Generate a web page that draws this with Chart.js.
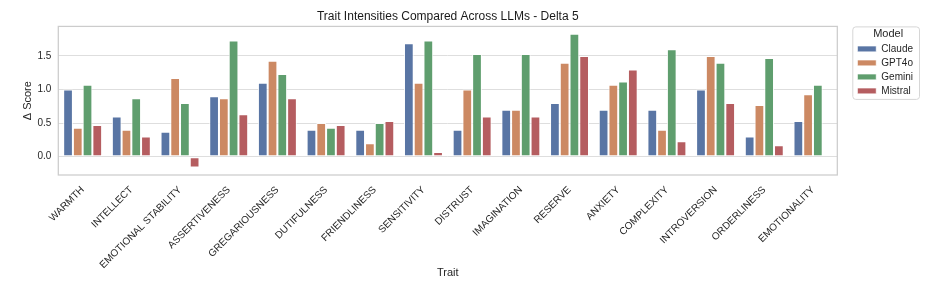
<!DOCTYPE html>
<html>
<head>
<meta charset="utf-8">
<script src="https://cdn.jsdelivr.net/npm/chart.js@4"></script>
<style>
  html, body { margin: 0; padding: 0; background: #ffffff; }
  #wrap { width: 930px; height: 291px; }
</style>
</head>
<body>
<div id="wrap"><canvas id="traitChart" width="930" height="291"></canvas></div>
<script>
// 資料
const traits = ['WARMTH', 'INTELLECT', 'EMOTIONAL STABILITY', 'ASSERTIVENESS', 'GREGARIOUSNESS',
  'DUTIFULNESS', 'FRIENDLINESS', 'SENSITIVITY', 'DISTRUST', 'IMAGINATION', 'RESERVE',
  'ANXIETY', 'COMPLEXITY', 'INTROVERSION', 'ORDERLINESS', 'EMOTIONALITY'];
const models = ['Claude', 'GPT4o', 'Gemini', 'Mistral'];
const claude  = [1.00, 0.60, 0.37, 0.90, 1.10, 0.40, 0.40, 1.69, 0.40, 0.70, 0.80, 0.70, 0.70, 1.00, 0.30, 0.53];
const gpt4o   = [0.43, 0.40, 1.17, 0.87, 1.43, 0.50, 0.20, 1.10, 1.00, 0.70, 1.40, 1.07, 0.40, 1.50, 0.77, 0.93];
const gemini  = [1.07, 0.87, 0.80, 1.73, 1.23, 0.43, 0.50, 1.73, 1.53, 1.53, 1.83, 1.12, 1.60, 1.40, 1.47, 1.07];
const mistral = [0.47, 0.30, -0.16, 0.63, 0.87, 0.47, 0.53, 0.07, 0.60, 0.60, 1.50, 1.30, 0.23, 0.80, 0.17, -0.02];
const yTicks = [0.0, 0.5, 1.0, 1.5];

const colors = ['#5975a4', '#cc8963', '#5f9e6e', '#b55d60'];

Chart.defaults.font.family = "'Liberation Sans', Arial, sans-serif";
Chart.defaults.color = '#262626';

// 圖框 + 圖例外框
const framePlugin = {
  id: 'frame',
  afterLayout(chart) {
    // 圖例往右挪一點
    chart.legend.left += 16;
    chart.legend.right += 16;
  },
  beforeDatasetsDraw(chart) {
    const {ctx, chartArea: a} = chart;
    ctx.save();
    ctx.strokeStyle = '#cccccc';
    ctx.lineWidth = 1.25;
    ctx.strokeRect(a.left, a.top, a.right - a.left, a.bottom - a.top);
    ctx.restore();
  },
  afterDraw(chart) {
    const lg = chart.legend;
    const boxes = lg.legendHitBoxes;
    if (!boxes || !boxes.length) return;
    const x0 = lg.left - 1;
    const y0 = lg.top;
    const x1 = Math.max(...boxes.map(b => b.left + b.width)) + 6;
    const last = boxes[boxes.length - 1];
    const y1 = last.top + last.height + 3;
    const ctx = chart.ctx;
    ctx.save();
    ctx.strokeStyle = '#d6d6d6';
    ctx.lineWidth = 1;
    ctx.beginPath();
    ctx.roundRect(x0 + 0.5, y0 + 0.5, x1 - x0, y1 - y0, 3);
    ctx.stroke();
    ctx.restore();
  }
};

const ctx = document.getElementById('traitChart').getContext('2d');
const chart = new Chart(ctx, {
  type: 'bar',
  data: {
    labels: traits,
    datasets: [claude, gpt4o, gemini, mistral].map((d, i) => ({
      label: models[i],
      data: d,
      backgroundColor: colors[i],
      borderColor: 'rgba(255,255,255,0.85)',
      borderWidth: 1,
      borderSkipped: false,
      categoryPercentage: 0.8,
      barPercentage: 1.0
    }))
  },
  options: {
    responsive: false,
    animation: false,
    layout: { padding: { left: 0, right: 23, top: 0, bottom: 0 } },
    scales: {
      x: {
        grid: { display: false },
        border: { display: false },
        ticks: {
          autoSkip: false,
          maxRotation: 45,
          minRotation: 45,
          padding: 1,
          color: '#1f1f1f',
          font: { size: 10 }
        },
        title: {
          display: true,
          text: 'Trait',
          font: { size: 11 },
          padding: { top: 0, bottom: 11 }
        },
        afterFit(scale) { scale.height = 116; }
      },
      y: {
        min: -0.273,
        max: 1.94,
        grid: { color: '#dedede', lineWidth: 1, drawTicks: false },
        border: { display: false },
        afterBuildTicks(scale) { scale.ticks = yTicks.map(v => ({ value: v })); },
        ticks: {
          padding: 7,
          font: { size: 10 },
          callback: v => Number(v).toFixed(1)
        },
        title: {
          display: true,
          text: 'Δ Score',
          font: { size: 11 },
          padding: { top: 21, bottom: 0 }
        },
        afterFit(scale) { scale.width = 58.3; }
      }
    },
    plugins: {
      title: {
        display: true,
        text: 'Trait Intensities Compared Across LLMs - Delta 5',
        fullSize: false,
        color: '#1a1a1a',
        font: { size: 12, weight: 'normal' },
        padding: { top: 9, bottom: 3 }
      },
      legend: {
        position: 'right',
        align: 'start',
        fullSize: false,
        title: {
          display: true,
          text: 'Model',
          font: { size: 11, lineHeight: 1 },
          padding: { top: 2.5, bottom: 0 }
        },
        labels: {
          boxWidth: 19,
          boxHeight: 6,
          padding: 4,
          font: { size: 10 }
        }
      },
      tooltip: { enabled: false }
    }
  },
  plugins: [framePlugin]
});
</script>
</body>
</html>
